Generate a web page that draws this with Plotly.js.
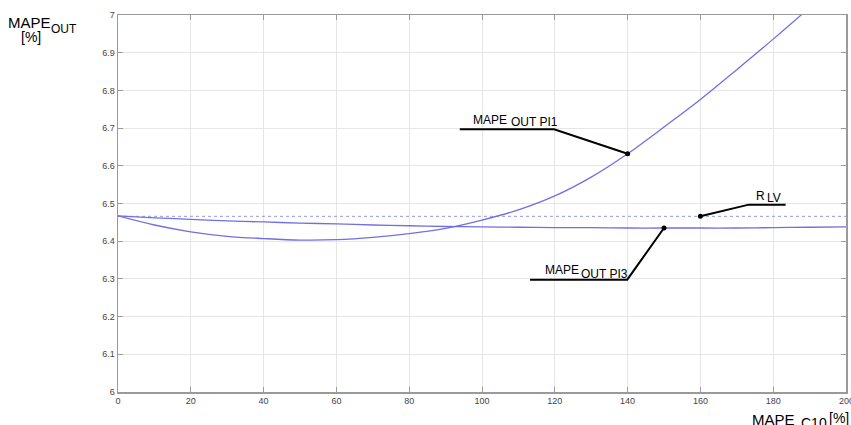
<!DOCTYPE html>
<html>
<head>
<meta charset="utf-8">
<script src="https://cdn.plot.ly/plotly-3.0.1.min.js"></script>
<style>html,body{margin:0;padding:0;background:#fff;}#chart{width:851px;height:425px;}</style>
</head>
<body>
<div id="chart"></div>
<script>
// ---- data ----
const mapeC10 = [0,10,20,30,40,50,60,70,80,90,100,110,120,130,140,150,160,170,180,190,200];
const mapeOutPI1 = [6.467,6.443,6.425,6.413,6.407,6.403,6.404,6.410,6.420,6.434,6.456,6.483,6.520,6.570,6.632,6.703,6.776,6.855,6.936,7.02,7.11];
const mapeOutPI3 = [6.467,6.462,6.458,6.454,6.451,6.448,6.446,6.443,6.441,6.439,6.438,6.437,6.436,6.436,6.435,6.435,6.435,6.435,6.436,6.437,6.438];
const rLVx = [0,200];
const rLV = [6.466,6.466];
const xTicks = [0,20,40,60,80,100,120,140,160,180,200];
const yTicks = [6,6.1,6.2,6.3,6.4,6.5,6.6,6.7,6.8,6.9,7];

// plot area geometry (pixels)
const L = 118, R = 5, T = 15, B = 33, W = 851, H = 425;
const pw = W - L - R, ph = H - T - B;
const px = v => (v - L) / pw;
const py = v => (H - B - v) / ph;

const curveColor = 'rgb(112,112,226)';
const iPI1 = mapeC10.indexOf(140), iPI3 = mapeC10.indexOf(150);

const traces = [
  {x: rLVx, y: rLV, mode: 'lines', line: {color: 'rgb(150,150,235)', width: 1, dash: 'dot'}, hoverinfo: 'skip'},
  {x: mapeC10, y: mapeOutPI3, mode: 'lines', line: {color: curveColor, width: 1.3, shape: 'spline'}},
  {x: mapeC10, y: mapeOutPI1, mode: 'lines', line: {color: curveColor, width: 1.3, shape: 'spline'}},
  {x: [mapeC10[iPI1], mapeC10[iPI3], 160], y: [mapeOutPI1[iPI1], mapeOutPI3[iPI3], rLV[0]],
   mode: 'markers', marker: {color: '#000', size: 5}, cliponaxis: false}
];

const lineStyle = {color: '#000', width: 2};
const shapes = [
  {type: 'path', xref: 'x', yref: 'y', path: `M 93.9,6.697 L 119.8,6.697 L ${mapeC10[iPI1]},${mapeOutPI1[iPI1]}`, line: lineStyle},
  {type: 'path', xref: 'x', yref: 'y', path: `M 160,${rLV[0]} L 173.3,6.497 L 183.4,6.497`, line: lineStyle},
  {type: 'path', xref: 'x', yref: 'y', path: `M 113.2,6.298 L 139.9,6.298 L ${mapeC10[iPI3]},${mapeOutPI3[iPI3]}`, line: lineStyle}
];

function lab(text, xpix, basePix, size) {
  return {text: text, xref: 'paper', yref: 'paper', x: px(xpix), y: py(basePix), xanchor: 'left', yanchor: 'bottom',
          yshift: -Math.round(size * 0.3) - 1, showarrow: false, borderpad: 0,
          font: {family: 'Liberation Sans, Arial, sans-serif', size: size, color: '#000'}};
}
const annotations = [
  lab('MAPE', 471.7, 122.5, 12), lab('OUT PI1', 510, 125, 12),
  lab('R', 755, 198.5, 12), lab('LV', 766, 200.5, 12),
  lab('MAPE', 544, 273, 12), lab('OUT PI3', 580, 276.5, 12),
  lab('MAPE', 7, 26, 15), lab('OUT', 50, 32, 12), lab('[%]', 20, 41, 14),
  lab('MAPE', 751, 423, 15), lab('C10', 800, 427, 14), lab('[%]', 828, 422, 14),
  // last x tick label, partly outside the page as in the original
  {text: String(xTicks[xTicks.length - 1]), xref: 'x', yref: 'paper', x: xTicks[xTicks.length - 1], y: 0, yanchor: 'top',
   xanchor: 'center', yshift: -3, showarrow: false, borderpad: 0,
   font: {family: 'Liberation Sans, Arial, sans-serif', size: 9, color: '#444'}}
];

const axisCommon = {showline: true, linecolor: '#9a9a9a', linewidth: 1.5, mirror: 'ticks', ticks: 'inside', ticklen: 5,
  tickcolor: '#9a9a9a', tickwidth: 1, showgrid: true, gridcolor: '#e6e6e6', gridwidth: 1, zeroline: false,
  tickfont: {family: 'Liberation Sans, Arial, sans-serif', size: 9, color: '#444'}};

const layout = {
  width: W, height: H, margin: {l: L, r: R, t: T, b: B, pad: 0},
  paper_bgcolor: '#fff', plot_bgcolor: '#fff', showlegend: false,
  xaxis: Object.assign({}, axisCommon, {range: [0, 200], tickmode: 'array', tickvals: xTicks, ticktext: xTicks.map(String)}),
  yaxis: Object.assign({}, axisCommon, {range: [6, 7], tickmode: 'array', tickvals: yTicks, ticktext: yTicks.map(v => String(v))}),
  shapes: shapes, annotations: annotations
};

Plotly.newPlot('chart', traces, layout, {staticPlot: true, displayModeBar: false});
</script>
</body>
</html>
